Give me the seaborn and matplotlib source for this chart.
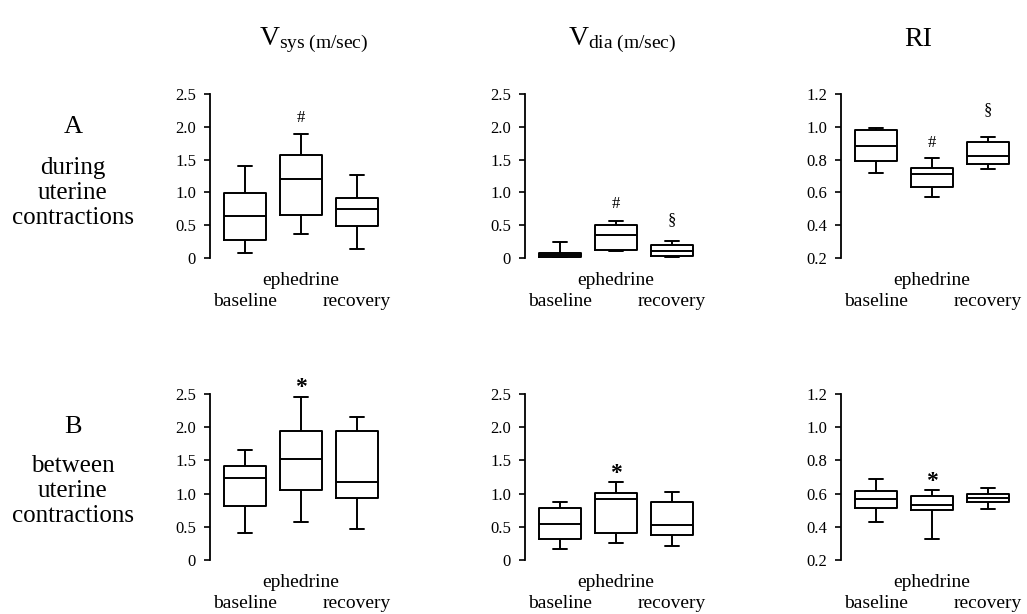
import numpy as np
import pandas as pd
import matplotlib
matplotlib.use("Agg")
import matplotlib.pyplot as plt
import seaborn as sns

# ---------------- data ----------------
conditions = ["baseline", "ephedrine", "recovery"]
row_letters = ["A", "B"]
row_texts = ["during\nuterine\ncontractions", "between\nuterine\ncontractions"]
col_titles = [r"$\mathrm{V_{sys\ (m/sec)}}$", r"$\mathrm{V_{dia\ (m/sec)}}$", "RI"]

# five-number summaries per condition: [low whisker, Q1, median, Q3, high whisker]
vsys_during = [[0.07, 0.28, 0.64, 0.99, 1.40],
               [0.36, 0.66, 1.21, 1.57, 1.89],
               [0.14, 0.49, 0.74, 0.92, 1.27]]
vdia_during = [[0.00, 0.01, 0.04, 0.08, 0.24],
               [0.10, 0.12, 0.35, 0.50, 0.57],
               [0.02, 0.035, 0.11, 0.195, 0.26]]
ri_during = [[0.72, 0.79, 0.88, 0.98, 0.995],
             [0.57, 0.635, 0.71, 0.75, 0.81],
             [0.74, 0.775, 0.82, 0.91, 0.94]]
vsys_between = [[0.41, 0.81, 1.24, 1.41, 1.66],
                [0.57, 1.05, 1.52, 1.95, 2.45],
                [0.47, 0.93, 1.17, 1.94, 2.16]]
vdia_between = [[0.17, 0.31, 0.54, 0.78, 0.88],
                [0.26, 0.40, 0.92, 1.01, 1.18],
                [0.21, 0.38, 0.52, 0.87, 1.02]]
ri_between = [[0.43, 0.513, 0.568, 0.614, 0.689],
              [0.325, 0.503, 0.533, 0.584, 0.62],
              [0.507, 0.547, 0.574, 0.60, 0.634]]

panels = [[vsys_during, vdia_during, ri_during],
          [vsys_between, vdia_between, ri_between]]

ylims = [(0, 2.5), (0, 2.5), (0.2, 1.2)]
yticks = [[0, 0.5, 1.0, 1.5, 2.0, 2.5], [0, 0.5, 1.0, 1.5, 2.0, 2.5],
          [0.2, 0.4, 0.6, 0.8, 1.0, 1.2]]
ytick_labels = [["0", "0.5", "1.0", "1.5", "2.0", "2.5"],
                ["0", "0.5", "1.0", "1.5", "2.0", "2.5"],
                ["0.2", "0.4", "0.6", "0.8", "1.0", "1.2"]]

# significance marks: (row, col, condition, symbol, y)
marks = [(0, 0, "ephedrine", "#", 2.14),
         (0, 1, "ephedrine", "#", 0.82),
         (0, 1, "recovery", "§", 0.57),
         (0, 2, "ephedrine", "#", 0.90),
         (0, 2, "recovery", "§", 1.10),
         (1, 0, "ephedrine", "*", 2.60),
         (1, 1, "ephedrine", "*", 1.30),
         (1, 2, "ephedrine", "*", 0.675)]

# ---------------- style ----------------
sns.set_theme(style="ticks")
plt.rcParams["font.family"] = ["Liberation Serif", "DejaVu Serif"]
plt.rcParams["mathtext.fontset"] = "custom"
plt.rcParams["mathtext.rm"] = "Liberation Serif"
plt.rcParams["mathtext.it"] = "Liberation Serif:italic"
for k in ["text.color", "axes.labelcolor", "xtick.color", "ytick.color", "axes.edgecolor"]:
    plt.rcParams[k] = "black"

fig = plt.figure(figsize=(10.27, 6.14), dpi=100)
W, H = 1027.0, 614.0

col_left_px = [210, 525, 841]
row_bottom_px = [258, 560]
row_height_px = [164, 166]
ax_width_px = 175
title_x_px = [314, 622, 918]
title_y_px = 40
row_label_x_px = 73
letter_y_px = [127, 427]
rowtext_y_px = [193, 491]

for r in range(2):
    for c in range(3):
        left = col_left_px[c] / W
        bottom = (H - row_bottom_px[r]) / H
        ax = fig.add_axes([left, bottom, ax_width_px / W, row_height_px[r] / H])
        stats = panels[r][c]
        recs = []
        for cond, vals in zip(conditions, stats):
            for v in vals:
                recs.append({"condition": cond, "value": v})
        df = pd.DataFrame(recs)
        sns.boxplot(data=df, x="condition", y="value", order=conditions,
                    whis=(0, 100), width=0.75, fill=False, color="black",
                    linecolor="black", linewidth=1.4, showfliers=False,
                    capwidths=0.24, ax=ax)
        ax.set_xlim(-0.625, 2.5)
        ax.set_ylim(*ylims[c])
        ax.set_yticks(yticks[c])
        ax.set_yticklabels(ytick_labels[c], fontsize=12)
        ax.set_xticks([])
        ax.set_xlabel("")
        ax.set_ylabel("")
        for s in ["top", "right", "bottom"]:
            ax.spines[s].set_visible(False)
        ax.spines["left"].set_linewidth(1.3)
        ax.tick_params(axis="y", length=4, width=1.2, pad=6)
        ax.patch.set_alpha(0)
        # category labels
        for i, cond in enumerate(conditions):
            off = -16.5 if cond == "ephedrine" else -31.5
            ax.annotate(cond, xy=(i, 0), xycoords=("data", "axes fraction"),
                        xytext=(0, off), textcoords="offset points",
                        ha="center", va="center", fontsize=14, annotation_clip=False)
        # significance marks
        for (mr, mc, cond, sym, yv) in marks:
            if mr == r and mc == c:
                if sym == "*":
                    ax.text(conditions.index(cond), yv, sym, ha="center", va="center",
                            fontsize=17, fontweight="bold", clip_on=False)
                else:
                    ax.text(conditions.index(cond), yv, sym, ha="center", va="center",
                            fontsize=12, clip_on=False)

# column titles
for c in range(3):
    fig.text(title_x_px[c] / W, 1 - title_y_px / H, col_titles[c],
             ha="center", va="center", fontsize=20)

# row labels
for r in range(2):
    fig.text(row_label_x_px / W, 1 - letter_y_px[r] / H, row_letters[r],
             ha="center", va="center", fontsize=19)
    fig.text(row_label_x_px / W, 1 - rowtext_y_px[r] / H, row_texts[r],
             ha="center", va="center", fontsize=18, linespacing=1.2)

fig.savefig("out.png", dpi=100)
